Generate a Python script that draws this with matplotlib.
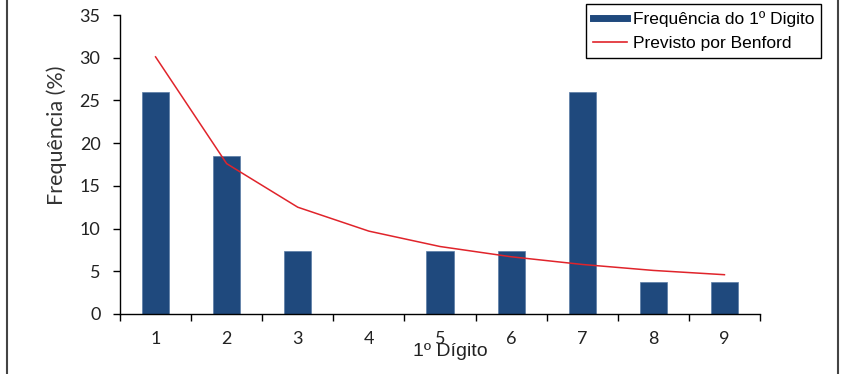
import matplotlib
matplotlib.use('Agg')
from matplotlib import pyplot
from matplotlib.lines import Line2D
from matplotlib.patches import Rectangle

# dados: frequência do primeiro dígito (%) e a previsão de Benford (%)
digitos = [1, 2, 3, 4, 5, 6, 7, 8, 9]
frequencia = [25.93, 18.52, 7.41, 0.0, 7.41, 7.41, 25.93, 3.70, 3.70]
benford = [30.1, 17.6, 12.5, 9.7, 7.9, 6.7, 5.8, 5.1, 4.6]
y_ticks = [0, 5, 10, 15, 20, 25, 30, 35]

W, H = 843, 374
azul = '#1F497D'
vermelho = '#E0242B'

fig = pyplot.figure(figsize=(W / 100, H / 100), dpi=100)
ax = fig.add_axes([120 / W, 1 - 314 / H, 640 / W, 299 / H])

ax.bar(digitos, frequencia, width=0.38, color=azul, edgecolor='#5A7BA6', linewidth=0.5, zorder=2)
ax.plot(digitos, benford, color=vermelho, linewidth=1.1, zorder=3)

ax.set_xlim(0.5, 9.5)
ax.set_ylim(0, 35)

# ticks nas divisões das categorias, rótulos no centro
ax.set_xticks([d - 0.5 for d in digitos] + [digitos[-1] + 0.5])
ax.set_xticklabels([])
ax.set_xticks(digitos, minor=True)
ax.set_xticklabels([str(d) for d in digitos], minor=True, fontsize=13, family='Lato', color='#222222')
ax.tick_params(axis='x', which='major', direction='out', length=5, width=1, color='black')
ax.tick_params(axis='x', which='minor', length=0, pad=12)

ax.set_yticks(y_ticks)
ax.set_yticklabels([str(v) for v in y_ticks], fontsize=13, family='Lato', color='#222222')
ax.tick_params(axis='y', direction='out', length=5, width=1, pad=9, color='black')

ax.spines['top'].set_visible(False)
ax.spines['right'].set_visible(False)
ax.spines['left'].set_linewidth(1)
ax.spines['bottom'].set_linewidth(1)

fig.text(57 / W, 1 - 135 / H, 'Frequência (%)', rotation=90, ha='center', va='center',
         fontsize=15.5, family='Lato', color='#333333')
fig.text(450 / W, 1 - 352 / H, '1º Dígito', ha='center', va='center',
         fontsize=14, family='Liberation Sans', color='#222222')

# título cortado no topo (só aparece a base dos parênteses)
fig.text(566 / W, 1 + 5 / H, '(%)', ha='right', va='baseline',
         fontsize=18, weight='bold', family='Liberation Sans')

handles = [Line2D([0], [0], color=azul, linewidth=5),
           Line2D([0], [0], color=vermelho, linewidth=1.2)]
leg = fig.legend(handles, ['Frequência do 1º Digito', 'Previsto por Benford'],
                 loc='upper right', bbox_to_anchor=(821 / W, 1 - 4 / H),
                 prop={'family': 'Liberation Sans', 'size': 12.5},
                 fancybox=False, shadow=False, framealpha=1, edgecolor='black',
                 handlelength=2.0, handletextpad=0.3, borderpad=0.4,
                 labelspacing=0.5, borderaxespad=0)
leg.get_frame().set_linewidth(1)

# moldura externa do gráfico
fig.patches.append(Rectangle((7 / W, -0.1), 831 / W, 1.2, transform=fig.transFigure,
                             fill=False, edgecolor='#444444', linewidth=1.5))

fig.savefig('out.png', dpi=100)
